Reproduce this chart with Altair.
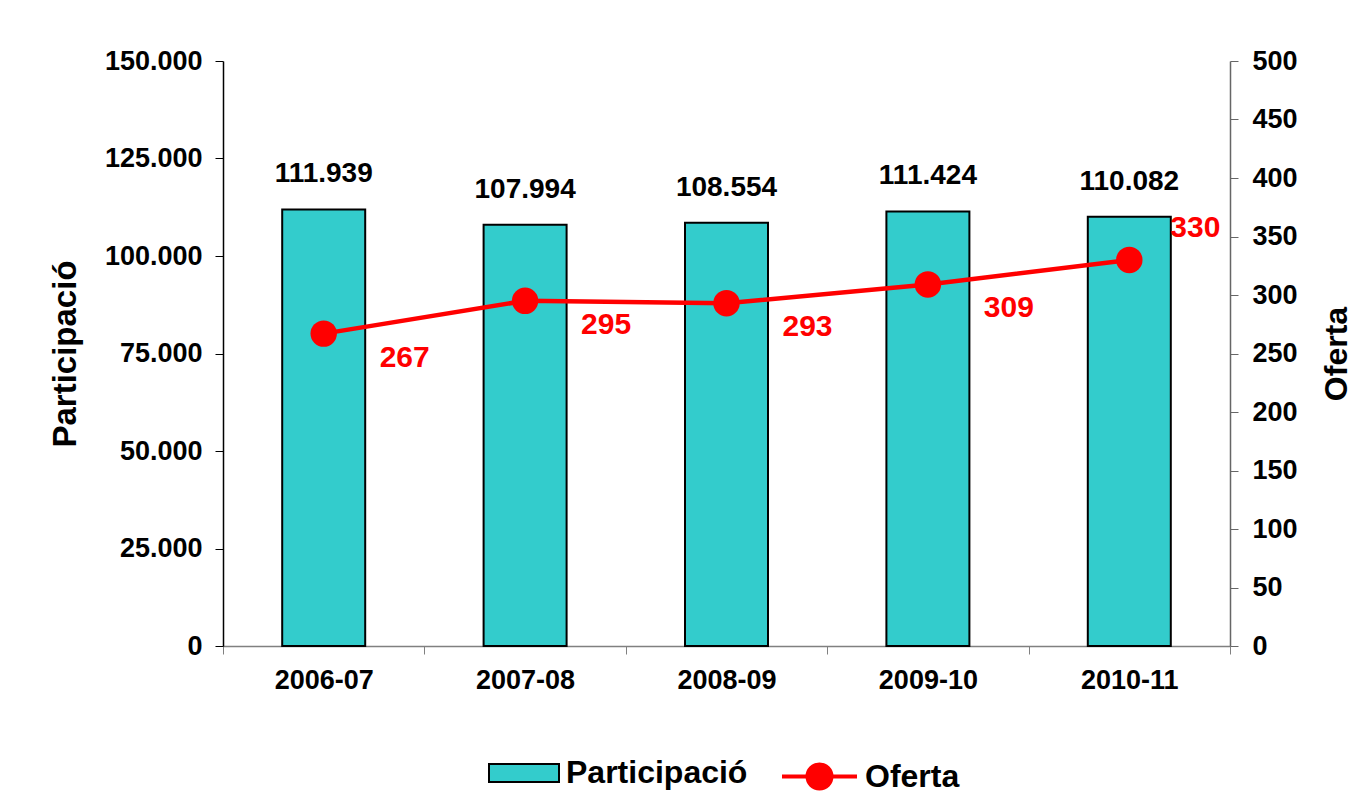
import altair as alt
import pandas as pd

years = ["2006-07", "2007-08", "2008-09", "2009-10", "2010-11"]
participacio = [111939, 107994, 108554, 111424, 110082]
oferta = [267, 295, 293, 309, 330]

df = pd.DataFrame({"curs": years, "participacio": participacio, "oferta": oferta})

FONT = "Liberation Sans"
TEAL = "#33CCCC"
RED = "#FF0000"

base = alt.Chart(df).transform_calculate(
    s1="'Participació'", s2="'Oferta'",
    plabel="replace(format(datum.participacio, ','), ',', '.')",
)

x = alt.X("curs:N", sort=years, title=None,
          scale=alt.Scale(paddingInner=0, paddingOuter=0),
          axis=alt.Axis(labelAngle=0, tickBand="extent", labelFontSize=27, labelFont=FONT,
                        labelFontWeight="bold", labelColor="black", labelPadding=13,
                        domainColor="#808080", tickColor="#808080", tickSize=8, domainWidth=1.5))

yl = alt.Y("participacio:Q", title="Participació",
           scale=alt.Scale(domain=[0, 150000], nice=False),
           axis=alt.Axis(orient="left", values=list(range(0, 150001, 25000)),
                         labelExpr="replace(format(datum.value, ','), ',', '.')",
                         labelFontSize=27, labelFont=FONT, labelFontWeight="bold", labelColor="black",
                         titleFontSize=33, titleFont=FONT, titleFontWeight="bold", titleColor="black",
                         titlePadding=22, labelPadding=13, tickSize=8, tickColor="black",
                         domainColor="black", domainWidth=1.5, grid=False))

yr = alt.Y("oferta:Q", title="Oferta",
           scale=alt.Scale(domain=[0, 500], nice=False),
           axis=alt.Axis(orient="right", values=list(range(0, 501, 50)),
                         labelFontSize=27, labelFont=FONT, labelFontWeight="bold", labelColor="black",
                         titleFontSize=32, titleFont=FONT, titleFontWeight="bold", titleColor="black",
                         titleAngle=270, titleBaseline="top", titlePadding=24, labelPadding=14, tickSize=8,
                         tickColor="#666666", domainColor="#666666", domainWidth=1.5, grid=False))

bars = base.mark_bar(width=83, stroke="black", strokeWidth=2).encode(
    x=x, y=yl,
    fill=alt.Fill("s1:N", scale=alt.Scale(domain=["Participació"], range=[TEAL]),
                  legend=alt.Legend(title=None, orient="none", legendX=265, legendY=676,
                                    symbolType="M-1,-0.26H1V0.26H-1Z", symbolSize=4900,
                                    symbolStrokeColor="black", symbolStrokeWidth=2,
                                    labelFontSize=32, labelFont=FONT, labelFontWeight="bold",
                                    labelColor="black", labelOffset=6, labelLimit=0)),
)
bar_text = base.mark_text(fontSize=28, font=FONT, fontWeight="bold", color="black",
                          dy=-35, baseline="middle").encode(x=x, y=yl, text="plabel:N")

left = alt.layer(bars, bar_text)

line = base.mark_line(color=RED, strokeWidth=4.5).encode(x=x, y=yr)
points = base.mark_circle(size=700, opacity=1).encode(
    x=x, y=yr,
    color=alt.Color("s2:N", scale=alt.Scale(domain=["Oferta"], range=[RED]),
                    legend=alt.Legend(title=None, orient="none", legendX=557, legendY=676,
                                      symbolType="M-1,0H1M-0.32,0A0.32,0.32,0,1,1,0.32,0A0.32,0.32,0,1,1,-0.32,0Z",
                                      symbolSize=5625, symbolStrokeColor=RED, symbolFillColor=RED,
                                      symbolStrokeWidth=4, symbolOpacity=1,
                                      labelFontSize=32, labelFont=FONT, labelFontWeight="bold",
                                      labelColor="black", labelOffset=6, labelLimit=0)),
)
red_text1 = base.transform_filter(alt.datum.curs != "2010-11").mark_text(
    fontSize=30, font=FONT, fontWeight="bold", color=RED, dx=81, dy=24, baseline="middle"
).encode(x=x, y=yr, text="oferta:Q")
red_text2 = base.transform_filter(alt.datum.curs == "2010-11").mark_text(
    fontSize=30, font=FONT, fontWeight="bold", color=RED, dx=66, dy=-32, baseline="middle"
).encode(x=x, y=yr, text="oferta:Q")

right = alt.layer(line, points, red_text1, red_text2)

chart = alt.layer(left, right).resolve_scale(y="independent", color="independent", fill="independent").properties(
    width=1007, height=585,
    autosize=alt.AutoSizeParams(type="none"),
    padding={"left": 215, "top": 53, "right": 133, "bottom": 148},
).configure_view(stroke=None)

chart.save("out.html", embed_options={"renderer": "svg", "actions": False})
